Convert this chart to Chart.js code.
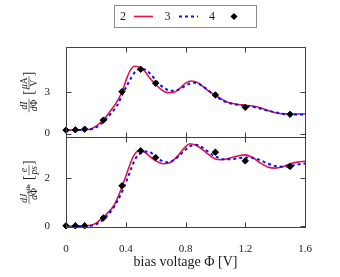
<!DOCTYPE html>
<html><head><meta charset="utf-8">
<script src="https://cdn.jsdelivr.net/npm/chart.js@4"></script>
<style>html,body{margin:0;padding:0;background:#fff;}#wrap{width:340px;height:277px;position:relative;}</style>
</head><body><div id="wrap"><canvas id="c" width="340" height="277"></canvas></div>
<script>
// ---- data ----
const seriesLabels = ['2', '3', '4'];
const xTicks = [0, 0.4, 0.8, 1.2, 1.6];
const yTopTicks = [0, 3];
const yBotTicks = [0, 2];
const xTitle = 'bias voltage Φ [V]';

// top panel: dI/dPhi
const phiTopRed = [0,0.1,0.16,0.2,0.25,0.295,0.34,0.377,0.406,0.43,0.46,0.49,0.53,0.56,0.6,0.64,0.68,0.72,0.76,0.8,0.84,0.88,0.92,0.96,1.0,1.05,1.1,1.15,1.2,1.25,1.3,1.35,1.4,1.45,1.5,1.55,1.6];
const dIRed = [0.25,0.26,0.32,0.52,1.0,1.6,2.3,3.1,4.0,4.6,4.9,4.82,4.5,4.05,3.58,3.18,2.98,3.0,3.27,3.67,3.83,3.72,3.4,3.05,2.79,2.45,2.22,2.12,2.06,2.0,1.88,1.68,1.52,1.43,1.42,1.42,1.42];
const phiTopBlue = [0,0.1,0.16,0.2,0.25,0.3,0.34,0.38,0.42,0.46,0.5,0.54,0.58,0.62,0.66,0.7,0.74,0.78,0.82,0.86,0.9,0.94,0.98,1.02,1.06,1.1,1.15,1.2,1.25,1.3,1.35,1.4,1.45,1.5,1.55,1.6];
const dIBlue = [0.25,0.26,0.3,0.45,0.85,1.45,2.0,2.9,3.75,4.45,4.72,4.6,4.15,3.65,3.3,3.12,3.15,3.35,3.6,3.7,3.55,3.25,2.9,2.6,2.35,2.2,2.1,2.02,1.95,1.82,1.68,1.55,1.45,1.4,1.38,1.38];
const phiPts = [0,0.0625,0.125,0.25,0.375,0.5,0.6,1.0,1.2,1.5];
const dIPts = [0.25,0.27,0.32,0.98,3.05,4.68,3.66,2.81,1.91,1.40];

// bottom panel: dJvib/dPhi
const phiBotRed = [0,0.14,0.2,0.23,0.27,0.32,0.35,0.385,0.42,0.45,0.49,0.53,0.57,0.61,0.65,0.69,0.72,0.76,0.8,0.83,0.87,0.91,0.95,1.0,1.04,1.08,1.14,1.2,1.25,1.3,1.35,1.4,1.45,1.5,1.55,1.6];
const dJRed = [0,0.02,0.12,0.28,0.5,0.85,1.24,1.8,2.42,2.89,3.14,3.06,2.85,2.68,2.59,2.62,2.74,3.0,3.3,3.42,3.36,3.2,3.0,2.79,2.76,2.8,2.9,2.96,2.84,2.63,2.46,2.41,2.47,2.59,2.66,2.69];
const phiBotBlue = [0,0.15,0.23,0.3,0.34,0.38,0.41,0.44,0.47,0.51,0.55,0.59,0.63,0.67,0.71,0.75,0.79,0.83,0.87,0.91,0.95,1.0,1.05,1.1,1.15,1.2,1.25,1.3,1.35,1.4,1.45,1.5,1.55,1.6];
const dJBlue = [0,0.01,0.18,0.62,1.0,1.5,1.95,2.45,2.85,3.05,3.1,2.95,2.75,2.65,2.7,2.88,3.12,3.32,3.38,3.28,3.1,2.9,2.78,2.78,2.82,2.85,2.84,2.74,2.6,2.5,2.47,2.5,2.56,2.6];
const dJPts = [0.02,0.02,0.02,0.35,1.68,3.13,2.85,3.07,2.71,2.48];

// ---- style ----
const FONT = "'Liberation Serif', 'DejaVu Serif', serif";
const TXT = '#1a1a1a';
const FRAME = '#404040';
const RED = '#e3124f';
const BLUE = '#1010f0';

function xy(xs, ys) { return xs.map((x, i) => ({x: x, y: ys[i]})); }

function lineSet(label, data, axis, color, dash, order) {
  return {label, data, yAxisID: axis, xAxisID: 'x', borderColor: color, backgroundColor: color,
    borderWidth: dash ? 2 : 1.6, borderDash: dash || [], pointRadius: 0, cubicInterpolationMode: 'monotone',
    fill: false, order, clip: false};
}
function ptSet(label, data, axis) {
  return {label, data, yAxisID: axis, xAxisID: 'x', showLine: false, pointStyle: 'rectRot',
    pointRadius: 3.2, borderWidth: 1, backgroundColor: '#000', borderColor: '#000', order: 1, clip: false};
}

const datasets = [
  lineSet(seriesLabels[0], xy(phiTopRed, dIRed), 'yTop', RED, null, 3),
  lineSet(seriesLabels[1], xy(phiTopBlue, dIBlue), 'yTop', BLUE, [3, 3], 2),
  ptSet(seriesLabels[2], xy(phiPts, dIPts), 'yTop'),
  lineSet(seriesLabels[0], xy(phiBotRed, dJRed), 'yBot', RED, null, 3),
  lineSet(seriesLabels[1], xy(phiBotBlue, dJBlue), 'yBot', BLUE, [3, 3], 2),
  ptSet(seriesLabels[2], xy(phiPts, dJPts), 'yBot'),
];

// fraction-style y labels
const topLabel = [
  {frac: [[{t: 'd', it: 1}, {t: 'I', it: 1}], [{t: 'd', it: 1}, {t: 'Φ'}]]},
  {gap: 4}, {br: '['},
  {frac: [[{t: 'μ', it: 1}, {t: 'A'}], [{t: 'V'}]]},
  {br: ']'}
];
const botLabel = [
  {frac: [[{t: 'd', it: 1}, {t: 'J', it: 1}, {t: 'vib', sub: 1}], [{t: 'd', it: 1}, {t: 'Φ'}]]},
  {gap: 4}, {br: '['},
  {frac: [[{t: 'e', it: 1}], [{t: 'ps', it: 1}]]},
  {br: ']'}
];
const FRAC_SIZE = 9.5;
const BR_FONT = '14px ' + FONT;

function runsWidth(ctx, runs, size) {
  let w = 0;
  for (const r of runs) {
    const s = r.sub ? size * 0.72 : size;
    ctx.font = (r.it ? 'italic ' : '') + s + 'px ' + FONT;
    w += ctx.measureText(r.t).width;
  }
  return w;
}
function drawRuns(ctx, runs, x, y, size) {
  let cx = x;
  for (const r of runs) {
    const s = r.sub ? size * 0.72 : size;
    ctx.font = (r.it ? 'italic ' : '') + s + 'px ' + FONT;
    ctx.fillText(r.t, cx, y + (r.sub ? size * 0.28 : 0));
    cx += ctx.measureText(r.t).width;
  }
}
function itemWidth(ctx, it, size) {
  if (it.gap) return it.gap;
  if (it.br) { ctx.font = BR_FONT; return ctx.measureText(it.br).width; }
  return Math.max(runsWidth(ctx, it.frac[0], size), runsWidth(ctx, it.frac[1], size)) + 2;
}
function drawYLabel(ctx, items, cx, cy) {
  const size = FRAC_SIZE;
  ctx.save();
  ctx.translate(cx, cy);
  ctx.rotate(-Math.PI / 2);
  ctx.fillStyle = TXT; ctx.strokeStyle = TXT;
  let total = 0;
  for (const it of items) total += itemWidth(ctx, it, size);
  let x = -total / 2;
  for (const it of items) {
    const w = itemWidth(ctx, it, size);
    if (it.br) {
      ctx.font = BR_FONT; ctx.textBaseline = 'middle';
      ctx.fillText(it.br, x, 0.5);
    } else if (it.frac) {
      ctx.textBaseline = 'alphabetic';
      const nw = runsWidth(ctx, it.frac[0], size), dw = runsWidth(ctx, it.frac[1], size);
      drawRuns(ctx, it.frac[0], x + (w - nw) / 2, -2, size);
      drawRuns(ctx, it.frac[1], x + (w - dw) / 2, 8, size);
      ctx.lineWidth = 0.6;
      ctx.beginPath(); ctx.moveTo(x, 0); ctx.lineTo(x + w, 0); ctx.stroke();
    }
    x += w;
  }
  ctx.restore();
}

const decor = {
  id: 'decor',
  afterDraw(chart) {
    const ctx = chart.ctx;
    const xs = chart.scales.x;
    const ca = chart.chartArea;
    ctx.save();
    ctx.strokeStyle = FRAME; ctx.lineWidth = 1;
    const seg = (a, b, c, d) => { ctx.beginPath(); ctx.moveTo(a, b); ctx.lineTo(c, d); ctx.stroke(); };
    for (const id of ['yTop', 'yBot']) {
      const ys = chart.scales[id];
      const l = Math.round(ca.left) + 0.5, r = Math.round(ca.right) + 0.5;
      const t = Math.round(ys.top) + 0.5, b = Math.round(ys.bottom) + 0.5;
      ctx.strokeRect(l, t, r - l, b - t);
      xs.ticks.forEach(tk => {
        const px = Math.round(xs.getPixelForValue(tk.value)) + 0.5;
        seg(px, t, px, t + 5); seg(px, b, px, b - 5);
      });
      ys.ticks.forEach(tk => {
        const py = Math.round(ys.getPixelForValue(tk.value)) + 0.5;
        seg(l, py, l + 5, py); seg(r, py, r - 5, py);
      });
    }
    // y labels
    const yt = chart.scales.yTop, yb = chart.scales.yBot;
    drawYLabel(ctx, topLabel, 29, (yt.top + yt.bottom) / 2);
    drawYLabel(ctx, botLabel, 29, (yb.top + yb.bottom) / 2);
    // key
    const kc = (ca.left + ca.right) / 2;
    ctx.strokeStyle = '#8a8a8a'; ctx.lineWidth = 1;
    ctx.strokeRect(Math.round(kc - 71.5) + 0.5, 5.5, 142, 22);
    ctx.fillStyle = TXT; ctx.font = '12px ' + FONT; ctx.textAlign = 'center'; ctx.textBaseline = 'middle';
    const ky = 16.5;
    ctx.fillText(seriesLabels[0], kc - 62.5, ky + 0.5);
    ctx.fillText(seriesLabels[1], kc - 18, ky + 0.5);
    ctx.fillText(seriesLabels[2], kc + 26.5, ky + 0.5);
    ctx.strokeStyle = RED; ctx.lineWidth = 1.6;
    seg(kc - 51.5, ky, kc - 32.5, ky);
    ctx.strokeStyle = BLUE; ctx.lineWidth = 2; ctx.setLineDash([3, 3]);
    seg(kc - 6.5, ky, kc + 12.5, ky);
    ctx.setLineDash([]);
    ctx.fillStyle = '#000';
    const dx = kc + 48.5, r = 3.6;
    ctx.beginPath(); ctx.moveTo(dx - r, ky); ctx.lineTo(dx, ky - r); ctx.lineTo(dx + r, ky); ctx.lineTo(dx, ky + r); ctx.closePath(); ctx.fill();
    ctx.restore();
  }
};

const tickFont = {family: FONT, size: 11};
const fmtX = v => (v === 0 ? '0' : v.toFixed(1));

new Chart(document.getElementById('c'), {
  type: 'line',
  data: {datasets},
  options: {
    responsive: false, animation: false, devicePixelRatio: 1, events: [],
    layout: {padding: {top: 47, right: 35, left: 0, bottom: 0}},
    plugins: {legend: {display: false}, tooltip: {enabled: false}},
    scales: {
      x: {type: 'linear', position: 'bottom', min: 0, max: 1.6,
        grid: {display: false}, border: {display: false},
        afterBuildTicks: s => { s.ticks = xTicks.map(v => ({value: v})); },
        afterFit: s => { s.height = 50; },
        ticks: {font: tickFont, color: TXT, padding: 8, maxRotation: 0, autoSkip: false, callback: v => fmtX(v)},
        title: {display: true, text: xTitle, font: {family: FONT, size: 14}, color: TXT, padding: {top: 0, bottom: 6}}
      },
      yBot: {type: 'linear', position: 'left', stack: 'p', stackWeight: 1, min: -0.03, max: 3.7,
        grid: {display: false}, border: {display: false},
        afterBuildTicks: s => { s.ticks = yBotTicks.map(v => ({value: v})); },
        afterFit: s => { s.width = 66; },
        ticks: {font: tickFont, color: TXT, padding: 8, callback: v => String(v)}
      },
      yTop: {type: 'linear', position: 'left', stack: 'p', stackWeight: 1, min: -0.25, max: 6.3,
        grid: {display: false}, border: {display: false},
        afterBuildTicks: s => { s.ticks = yTopTicks.map(v => ({value: v})); },
        afterFit: s => { s.width = 66; },
        ticks: {font: tickFont, color: TXT, padding: 8, callback: v => String(v)}
      }
    }
  },
  plugins: [decor]
});
</script>
</body></html>
